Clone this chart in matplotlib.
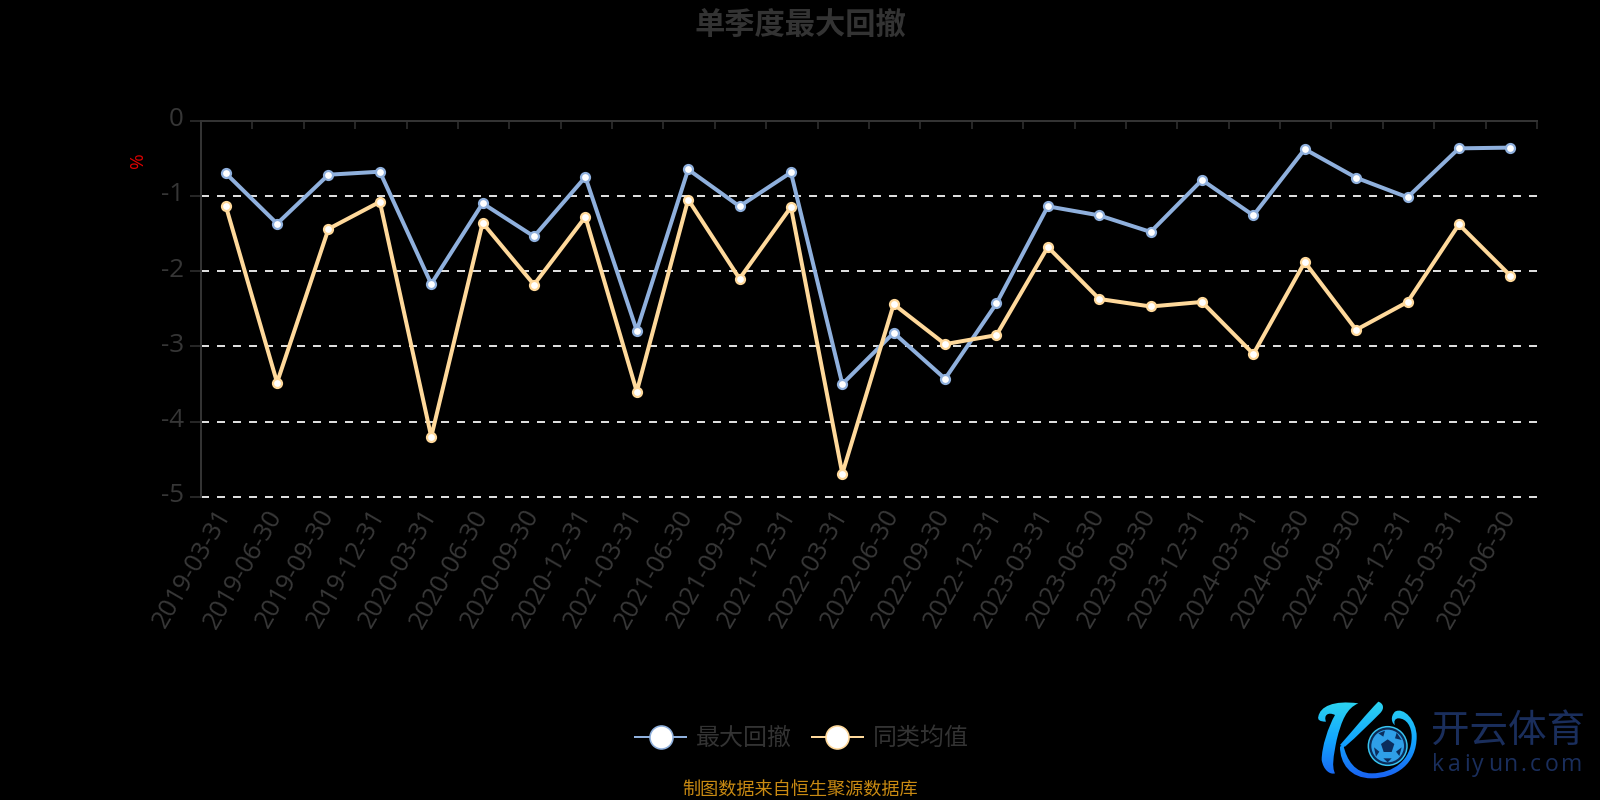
import matplotlib
matplotlib.use("Agg")
import matplotlib.pyplot as plt
import numpy as np
from matplotlib.lines import Line2D
from matplotlib.patches import Circle, PathPatch, Polygon
from matplotlib.path import Path
from matplotlib.transforms import Affine2D

plt.rcParams['font.family'] = ['Open Sans', 'Noto Sans CJK SC', 'DejaVu Sans']

dates = ['2019-03-31','2019-06-30','2019-09-30','2019-12-31','2020-03-31','2020-06-30',
         '2020-09-30','2020-12-31','2021-03-31','2021-06-30','2021-09-30','2021-12-31',
         '2022-03-31','2022-06-30','2022-09-30','2022-12-31','2023-03-31','2023-06-30',
         '2023-09-30','2023-12-31','2024-03-31','2024-06-30','2024-09-30','2024-12-31',
         '2025-03-31','2025-06-30']
max_drawdown = [-0.70,-1.37,-0.72,-0.68,-2.17,-1.10,-1.54,-0.75,-2.79,-0.65,-1.14,-0.69,
                -3.50,-2.82,-3.43,-2.43,-1.14,-1.26,-1.48,-0.79,-1.26,-0.38,-0.76,-1.02,
                -0.37,-0.36]
peer_mean = [-1.13,-3.48,-1.44,-1.08,-4.20,-1.36,-2.18,-1.28,-3.60,-1.05,-2.10,-1.15,
             -4.69,-2.44,-2.97,-2.85,-1.68,-2.37,-2.47,-2.41,-3.10,-1.88,-2.78,-2.41,
             -1.38,-2.06]
yticks = [0,-1,-2,-3,-4,-5]
series_names = ['最大回撤','同类均值']
title = '单季度最大回撤'
footer = '制图数据来自恒生聚源数据库'

W, H = 1600, 800
BLUE, YEL = '#8fb0dd', '#ffd99b'
GREY = '#333333'
def pt(px): return px*72/100

fig = plt.figure(figsize=(16,8), dpi=100, facecolor='black')
L, R, T, B = 201, 1537, 120.5, 497
ax = fig.add_axes([L/W, 1-B/H, (R-L)/W, (B-T)/H], facecolor='black')
n = len(dates)
x = np.arange(n)
ax.set_xlim(-0.5, n-0.5)
ax.set_ylim(-5, 0)

ax.set_yticks(yticks)
ax.set_yticklabels([str(v) for v in yticks], fontsize=pt(26), color='#363636')
ax.grid(axis='y', color='#dddddd', lw=pt(2), linestyle=(0,(4,4)), zorder=1, clip_on=False)
for gl in ax.get_ygridlines():
    gl.set_clip_on(False)
ax.get_ygridlines()[0].set_visible(False)
ax.tick_params(axis='y', length=pt(11), width=pt(1.5), color=GREY, pad=pt(5))
for lb in ax.get_yticklabels():
    lb.set_transform(lb.get_transform() + Affine2D().translate(-1, 4))

for s in ['right','bottom']:
    ax.spines[s].set_visible(False)
for s in ['top','left']:
    ax.spines[s].set_color(GREY)
    ax.spines[s].set_linewidth(pt(2))
    ax.spines[s].set_zorder(2)

ax.set_xticks(np.arange(n+1)-0.5)
ax.set_xticklabels([])
ax.tick_params(axis='x', which='major', top=True, bottom=False, direction='in',
               length=pt(8), width=pt(1.5), color=GREY)
ax.set_xticks(x, minor=True)
ax.set_xticklabels(dates, minor=True, rotation=60, ha='right', va='top',
                   rotation_mode='anchor', fontsize=pt(25.5), color='#383838')
ax.tick_params(axis='x', which='minor', length=0, bottom=True, top=False, pad=pt(8))
for lb in ax.get_xticklabels(minor=True):
    lb.set_transform(lb.get_transform() + Affine2D().translate(-12, 0))

shift = ax.transData + Affine2D().translate(-1, 0)
for vals, col in ((max_drawdown, BLUE), (peer_mean, YEL)):
    ax.plot(x, vals, color=col, lw=pt(4), marker='o', ms=pt(9), mfc='white',
            mec=col, mew=pt(2.2), zorder=3, clip_on=False, transform=shift)

fig.text(800/W, 1-26/H, title, ha='center', va='center', fontsize=pt(30.3),
         fontweight='bold', color=GREY)
fig.text(138/W, 1-160/H, '%', rotation=90, ha='center', va='center',
         fontsize=pt(19), color='#e00000')
fig.text(800/W, 1-791/H, footer, ha='center', va='center', fontsize=pt(18.2), color='#c98a12')

handles = [Line2D([], [], color=c, lw=pt(2), marker='o', ms=pt(23), mfc='white', mec=c, mew=pt(1.6))
           for c in (BLUE, YEL)]
fig.legend(handles, series_names, ncol=2, frameon=False, loc='center',
           bbox_to_anchor=(802/W, 1-739/H), fontsize=pt(24), labelcolor=GREY,
           handlelength=2.1, handletextpad=0.42, columnspacing=0.85)

# logo, outlines given in a local 900x330 box
lg = fig.add_axes([0,0,1,1], facecolor='none')
lg.set_xlim(0,W); lg.set_ylim(H,0); lg.axis('off')
local = Affine2D().scale(1/3,1/3).translate(1300,690) + lg.transData
M, C, Z = Path.MOVETO, Path.CURVE4, Path.CLOSEPOLY
def bez(start, curves):
    v=[start]; c=[M]
    for tri in curves:
        v+=tri; c+=[C,C,C]
    v.append(start); c.append(Z)
    return Path(v,c)
stem = bez((55,80),[[(60,50),(100,30),(175,40)],[(140,55),(125,90),(110,150)],
                    [(100,200),(95,230),(105,250)],[(90,255),(70,240),(65,210)],
                    [(65,170),(85,110),(105,75)],[(85,65),(70,75),(78,95)],
                    [(60,95),(52,90),(55,80)]])
arm = bez((235,35),[[(250,40),(255,55),(240,70)],[(210,100),(170,140),(135,170)],
                    [(130,170),(125,168),(120,165)],[(160,120),(200,70),(235,35)]])
leg = bez((130,165),[[(140,210),(165,250),(215,250)],[(280,250),(335,210),(335,140)],
                     [(335,110),(320,85),(295,85)],[(285,85),(280,95),(285,105)],
                     [(275,100),(270,80),(285,65)],[(310,50),(350,90),(350,140)],
                     [(350,220),(290,265),(215,265)],[(150,265),(120,220),(120,170)]])
kpath = Path.make_compound_path(stem, arm, leg)
grad = np.linspace(0,1,64).reshape(-1,1)
cm = matplotlib.colors.LinearSegmentedColormap.from_list('k',['#2fd8ee','#12a6ff','#1a5cf0'])
im = lg.imshow(grad, cmap=cm, extent=(1310,1425,782,698), aspect='auto', zorder=4)
kp = PathPatch(kpath, transform=local, fc='none', ec='none')
lg.add_patch(kp)
im.set_clip_path(kp)
lg.add_patch(Circle((263,168),58,transform=local,fc='#0a2a55',ec='#38c4f0',lw=pt(1.5),zorder=6))
lg.add_patch(Circle((263,168),49,transform=local,fc='#2f9fe8',ec='none',zorder=7))
pent = [(263,148),(283,162),(275,186),(251,186),(243,162)]
lg.add_patch(Polygon(pent,transform=local,fc='#0b2d5c',ec='none',zorder=8))
for sp in ([(235,130),(255,122),(250,140)],[(290,128),(305,150),(285,145)],
           [(222,172),(238,185),(228,200)],[(305,172),(298,198),(288,185)],
           [(250,205),(275,205),(263,217)]):
    lg.add_patch(Polygon(sp,transform=local,fc='#0b2d5c',ec='none',zorder=8))
lg.text(1508,731,'开云体育',ha='center',va='center',fontsize=pt(38.5),color='#1a2e5c',
        family='Noto Sans CJK SC', fontweight='medium')
letters = 'kaiyun.com'
adv = [0,16,32,40,56,72,88,98,113,129]
for ch, d in zip(letters, adv):
    lg.text(1432+d,771,ch,ha='left',va='baseline',fontsize=pt(23),color='#1a2e5c',family='Open Sans')
lg.set_xlim(0,W); lg.set_ylim(H,0)

fig.savefig('out.png', dpi=100, facecolor='black')
